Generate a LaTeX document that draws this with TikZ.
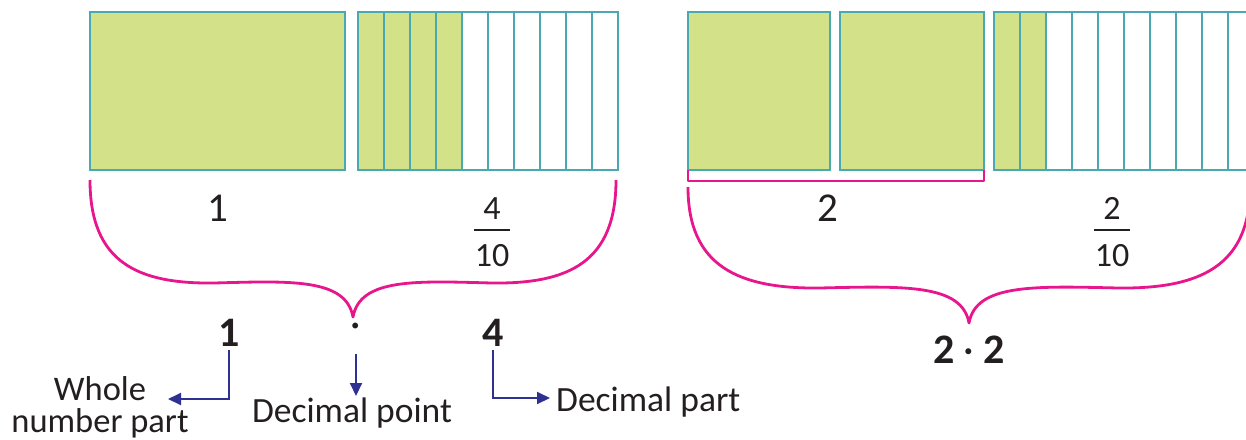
\documentclass[tikz,border=0pt]{standalone}
\usepackage{fontspec}
\setmainfont{Carlito}
\usetikzlibrary{arrows.meta}
\definecolor{tealc}{HTML}{4AA8B2}
\definecolor{greenc}{HTML}{D3E288}
\definecolor{pinkc}{HTML}{E8168C}
\definecolor{navyc}{HTML}{2E3192}
\definecolor{textc}{HTML}{231F20}
\begin{document}
\begin{tikzpicture}[x=1pt,y=-1pt,
  cell/.style={draw=tealc,line width=2.8pt},
  full/.style={cell,fill=greenc},
  brace/.style={draw=pinkc,line width=2.8pt,line join=round},
  arr/.style={draw=navyc,line width=2pt,-{Triangle[length=13pt,width=12pt]}},
  lbl/.style={font=\fontsize{35.5}{29}\selectfont,text=textc,inner sep=0pt},
  wlbl/.style={font=\fontsize{34.5}{32}\selectfont,text=textc,inner sep=0pt},
  big/.style={font=\fontsize{41}{44}\selectfont,text=textc,inner sep=0pt},
  fracnum/.style={font=\fontsize{34}{38}\selectfont,text=textc,inner sep=0pt},
  bld/.style={font=\fontsize{42}{46}\selectfont\bfseries,text=textc,inner sep=0pt},
  bar/.style={draw=textc,line width=2pt}]
\useasboundingbox (0,0) rectangle (1246,439);

% ---- left model: 1 whole + 4 tenths
\draw[full] (90,12) rectangle (345,170);
\foreach \i in {0,...,3} \draw[full] (358+26*\i,12) rectangle +(26,158);
\foreach \i in {4,...,9} \draw[cell] (358+26*\i,12) rectangle +(26,158);

% ---- right model: 2 wholes + 2 tenths
\draw[full] (688,12) rectangle (830,170);
\draw[full] (840,12) rectangle (984,170);
\foreach \i in {0,...,1} \draw[full] (994+26*\i,12) rectangle +(26,158);
\foreach \i in {2,...,9} \draw[cell] (994+26*\i,12) rectangle +(26,158);

% bracket under the two wholes
\draw[brace] (688,170) -- (688,181) -- (984,181) -- (984,170);

% ---- braces
\draw[brace] (90,180) .. controls (90,262) and (137,284) .. (214,283)
  .. controls (290,281) and (346,278) .. (353,317)
  .. controls (360,278) and (416,281) .. (492,283)
  .. controls (569,284) and (616,262) .. (616,180);
\draw[brace] (688,187) .. controls (688,266) and (738,289) .. (820,288)
  .. controls (905,286) and (962,284) .. (969,323)
  .. controls (976,284) and (1033,286) .. (1118,288)
  .. controls (1200,289) and (1250,266) .. (1250,187);

% ---- labels under models
\node[big,anchor=base] (one) at (218,221) {1};
\node[fracnum,anchor=base] (n4) at (492,219) {4};
\draw[bar] (474,230) -- (510,230);
\node[fracnum,anchor=base] (d4) at (492,266) {10};

\node[big,anchor=base] (two) at (828,221) {2};
\node[fracnum,anchor=base] (n2) at (1112,219) {2};
\draw[bar] (1094,230) -- (1130,230);
\node[fracnum,anchor=base] (d2) at (1112,266) {10};

% ---- decimals
\node[bld,anchor=base] (b1) at (229,346) {1};
\node[big,anchor=center] (bdot) at (356,330) {·};
\node[bld,anchor=base] (b4) at (493,346) {4};
\node[bld,anchor=base] (b22) at (969,363) {2\hspace{9pt}{\mdseries ·}\hspace{9pt}2};

% ---- explanation labels
\node[wlbl,align=center,anchor=south] (wn) at (100,438) {Whole\\number part};
\node[lbl,anchor=base] (dp) at (352,422) {Decimal point};
\node[lbl,anchor=base west] (dpart) at (556,411) {Decimal part};

\coordinate (wtip) at (168,399);
\coordinate (dptip) at (356,396);
\coordinate (dparttip) at (550,398);
\draw[arr] (b1.south) ++(0,4) |- (wtip);
\draw[arr] (bdot.south) ++(0,17) -- (dptip);
\draw[arr] (b4.south) ++(0,4) |- (dparttip);
\end{tikzpicture}
\end{document}
